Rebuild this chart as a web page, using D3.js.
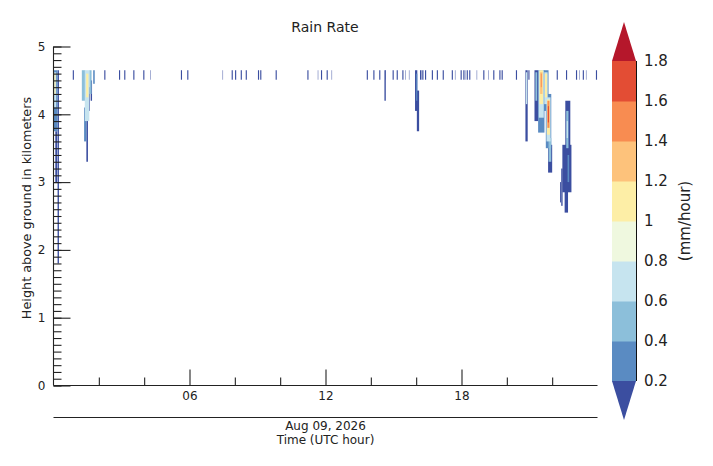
<!DOCTYPE html>
<html><head><meta charset="utf-8">
<script src="https://cdn.jsdelivr.net/npm/d3@7"></script>
<style>
body{margin:0;background:#fff;}
text{font-family:"DejaVu Sans",sans-serif;fill:#222;}
</style></head>
<body><svg id="chart" width="713" height="466"></svg>
<script>
// ---------- data ----------
const chartTitle = "Rain Rate";
const dateLabel = "Aug 09, 2026";
const xTitle = "Time (UTC hour)";
const yTitle = "Height above ground in kilometers";
const unitLabel = "(mm/hour)";
const hourTicks = [6, 12, 18];
const hourTickLabels = ["06", "12", "18"];
const minorHourTicks = [2, 4, 8, 10, 14, 16, 20, 22];
const heightTicks = [0, 1, 2, 3, 4, 5];
const rateLevels = [0.2, 0.4, 0.6, 0.8, 1.0, 1.2, 1.4, 1.6, 1.8];
const rateLevelLabels = ["0.2", "0.4", "0.6", "0.8", "1", "1.2", "1.4", "1.6", "1.8"];
const rateColors = ["#3b4ea0", "#5a8bc2", "#8cbfda", "#c6e4ef", "#eff8df",
                    "#fdeea6", "#fdc27b", "#f88c51", "#e34d34", "#b5172b"];
// thin echoes near 4.5-4.65 km: [hour]
const stickTimes = [0.85, 2.24, 2.89, 3.12, 3.52, 3.96, 5.62, 5.90, 7.86, 8.01, 8.26, 8.48,
  9.02, 9.12, 9.80, 11.20, 11.80, 12.05, 13.82, 14.11, 14.37, 14.96, 15.14, 15.39,
  16.17, 16.24, 16.39, 16.69, 16.91, 17.17, 17.57, 17.96, 18.08, 18.23, 18.34, 18.96,
  19.40, 19.67, 19.77, 20.40, 20.95, 22.20, 22.61, 23.05, 23.35, 23.93];
const faintStickTimes = [4.26, 7.46, 11.66, 12.27, 14.64, 15.51, 15.68, 16.31, 17.71,
  18.15, 18.67, 19.18, 23.20, 23.49];
const stickBottomKm = 4.51, stickTopKm = 4.65;
// rain columns: [startHour, endHour, bottomKm, topKm, rate mm/h]
const rainColumns = [
  [0.00, 0.18, 3.75, 4.65, 0.3], [0.18, 0.24, 1.80, 4.65, 0.1], [0.08, 0.16, 3.00, 3.75, 0.1],
  [0.03, 0.12, 4.10, 4.62, 0.7], [0.04, 0.09, 4.30, 4.60, 1.1],
  [1.25, 1.40, 4.20, 4.65, 0.5], [1.38, 1.58, 3.90, 4.65, 0.7], [1.35, 1.45, 3.60, 4.10, 0.3],
  [1.45, 1.52, 3.30, 4.20, 0.1], [1.44, 1.54, 4.25, 4.60, 1.1], [1.58, 1.68, 4.30, 4.65, 0.5],
  [1.64, 1.70, 4.20, 4.50, 0.1], [1.55, 1.60, 4.05, 4.40, 0.1], [1.75, 1.82, 4.45, 4.65, 0.3],
  [14.60, 14.66, 4.20, 4.65, 0.1],
  [15.95, 16.05, 4.05, 4.65, 0.1], [16.03, 16.13, 3.75, 4.35, 0.1], [16.00, 16.05, 4.20, 4.60, 0.3],
  [20.82, 20.92, 3.60, 4.65, 0.1], [20.84, 20.90, 4.15, 4.62, 0.6],
  [21.22, 21.38, 3.90, 4.65, 0.1], [21.26, 21.34, 4.20, 4.62, 0.5],
  [21.38, 21.66, 3.73, 4.65, 0.3], [21.41, 21.63, 3.95, 4.65, 0.7], [21.44, 21.60, 4.15, 4.65, 1.1],
  [21.47, 21.57, 4.30, 4.62, 1.3], [21.50, 21.54, 4.40, 4.60, 1.5],
  [21.62, 21.84, 4.05, 4.65, 0.3], [21.65, 21.80, 4.15, 4.62, 0.7], [21.68, 21.78, 4.25, 4.60, 1.1],
  [21.72, 21.96, 3.50, 4.30, 0.3], [21.75, 21.93, 3.60, 4.25, 0.7], [21.77, 21.90, 3.70, 4.22, 1.1],
  [21.79, 21.88, 3.80, 4.20, 1.5], [21.81, 21.86, 3.88, 4.12, 1.7],
  [21.82, 22.00, 3.14, 3.55, 0.1], [21.84, 21.96, 3.30, 3.65, 0.5],
  [22.58, 22.80, 3.20, 4.20, 0.1], [22.62, 22.72, 3.50, 4.05, 0.5], [22.64, 22.70, 3.65, 3.90, 0.7],
  [22.45, 22.85, 2.85, 3.55, 0.1], [22.55, 22.70, 2.55, 3.00, 0.1], [22.68, 22.75, 3.00, 3.40, 0.3],
  [22.40, 22.46, 2.65, 3.20, 0.1], [22.35, 22.39, 2.70, 3.00, 0.1]
];

// ---------- drawing ----------
const svg = d3.select("#chart");
const x = d3.scaleLinear().domain([0, 24]).range([53.5, 597.5]);
const y = d3.scaleLinear().domain([0, 5]).range([385.5, 46.5]);
const color = d3.scaleThreshold().domain(rateLevels).range(rateColors);

const plot = svg.append("g");
const stickDur = 0.05, faintDur = 0.02;
plot.selectAll("rect.stick").data(stickTimes).join("rect")
  .attr("x", d => x(d)).attr("width", x(stickDur) - x(0))
  .attr("y", y(stickTopKm)).attr("height", y(stickBottomKm) - y(stickTopKm))
  .attr("fill", color(0.1));
plot.selectAll("rect.faint").data(faintStickTimes).join("rect")
  .attr("x", d => x(d)).attr("width", x(faintDur) - x(0))
  .attr("y", y(stickTopKm)).attr("height", y(stickBottomKm) - y(stickTopKm))
  .attr("fill", color(0.1));
const cols = rainColumns.slice().sort((a, b) => a[4] - b[4]);
plot.selectAll("rect.col").data(cols).join("rect")
  .attr("x", d => x(d[0])).attr("width", d => x(d[1]) - x(d[0]))
  .attr("y", d => y(d[3])).attr("height", d => y(d[2]) - y(d[3]))
  .attr("fill", d => color(d[4]));

// axes
const yMinor = d3.range(0, 5.0001, 0.1).map(v => +v.toFixed(1));
svg.append("g").attr("transform", "translate(53.5,0)")
  .call(d3.axisLeft(y).tickValues(yMinor).tickSize(-8).tickFormat(""))
  .call(g => g.select(".domain").remove());
const yAx = svg.append("g").attr("transform", "translate(53.5,0)")
  .call(d3.axisLeft(y).tickValues(heightTicks).tickSize(-17).tickPadding(8).tickFormat(d3.format("d")));
yAx.select(".domain").attr("d", `M0,${y(5)}V${y(0)}`);
svg.append("g").attr("transform", `translate(0,${y(0)})`)
  .call(d3.axisBottom(x).tickValues(minorHourTicks).tickSize(-8).tickFormat(""))
  .call(g => g.select(".domain").remove());
const xAx = svg.append("g").attr("transform", `translate(0,${y(0)})`)
  .call(d3.axisBottom(x).tickValues(hourTicks).tickSize(-16).tickPadding(6)
    .tickFormat((d, i) => hourTickLabels[i]));
xAx.select(".domain").attr("d", `M${x(0)},0H${x(24)}`);
svg.selectAll(".tick line, .domain").attr("stroke", "#222").attr("stroke-width", 1.1);
svg.selectAll(".tick text").attr("font-size", 12).attr("fill", "#222")
  .attr("font-family", "DejaVu Sans, sans-serif");

// second date axis line
svg.append("line").attr("x1", x(0)).attr("x2", x(24)).attr("y1", 417.5).attr("y2", 417.5)
  .attr("stroke", "#222").attr("stroke-width", 1.1);
svg.append("text").attr("x", x(12)).attr("y", 430).attr("text-anchor", "middle")
  .attr("font-size", 12).text(dateLabel);
svg.append("text").attr("x", x(12)).attr("y", 443.5).attr("text-anchor", "middle")
  .attr("font-size", 12).text(xTitle);

// titles
svg.append("text").attr("x", 325).attr("y", 32).attr("text-anchor", "middle")
  .attr("font-size", 14).text(chartTitle);
svg.append("text").attr("transform", "translate(31,208) rotate(-90)")
  .attr("text-anchor", "middle").attr("font-size", 12.8).text(yTitle);

// colorbar
const cb = svg.append("g");
const cy = d3.scaleLinear().domain([0.2, 1.8]).range([381, 61]);
const cbX0 = 612, cbX1 = 636;
cb.selectAll("rect").data(d3.range(rateLevels.length - 1)).join("rect")
  .attr("x", cbX0).attr("width", cbX1 - cbX0)
  .attr("y", i => cy(rateLevels[i + 1])).attr("height", i => cy(rateLevels[i]) - cy(rateLevels[i + 1]) + 0.5)
  .attr("fill", i => rateColors[i + 1]);
cb.append("path").attr("d", `M${cbX0},${cy(1.8)}L${(cbX0 + cbX1) / 2},22L${cbX1},${cy(1.8)}Z`)
  .attr("fill", rateColors[rateColors.length - 1]);
cb.append("path").attr("d", `M${cbX0},${cy(0.2)}L${(cbX0 + cbX1) / 2},420L${cbX1},${cy(0.2)}Z`)
  .attr("fill", rateColors[0]);
cb.append("line").attr("x1", cbX1 + 0.5).attr("x2", cbX1 + 0.5).attr("y1", cy(1.8)).attr("y2", cy(0.2))
  .attr("stroke", "#111").attr("stroke-width", 1);
cb.selectAll("text.lvl").data(rateLevels).join("text")
  .attr("x", 644).attr("y", d => cy(d)).attr("dy", "0.36em")
  .attr("font-size", 15).text((d, i) => rateLevelLabels[i]);
svg.append("text").attr("transform", "translate(690,221) rotate(-90)")
  .attr("text-anchor", "middle").attr("font-size", 15).text(unitLabel);
</script></body></html>
